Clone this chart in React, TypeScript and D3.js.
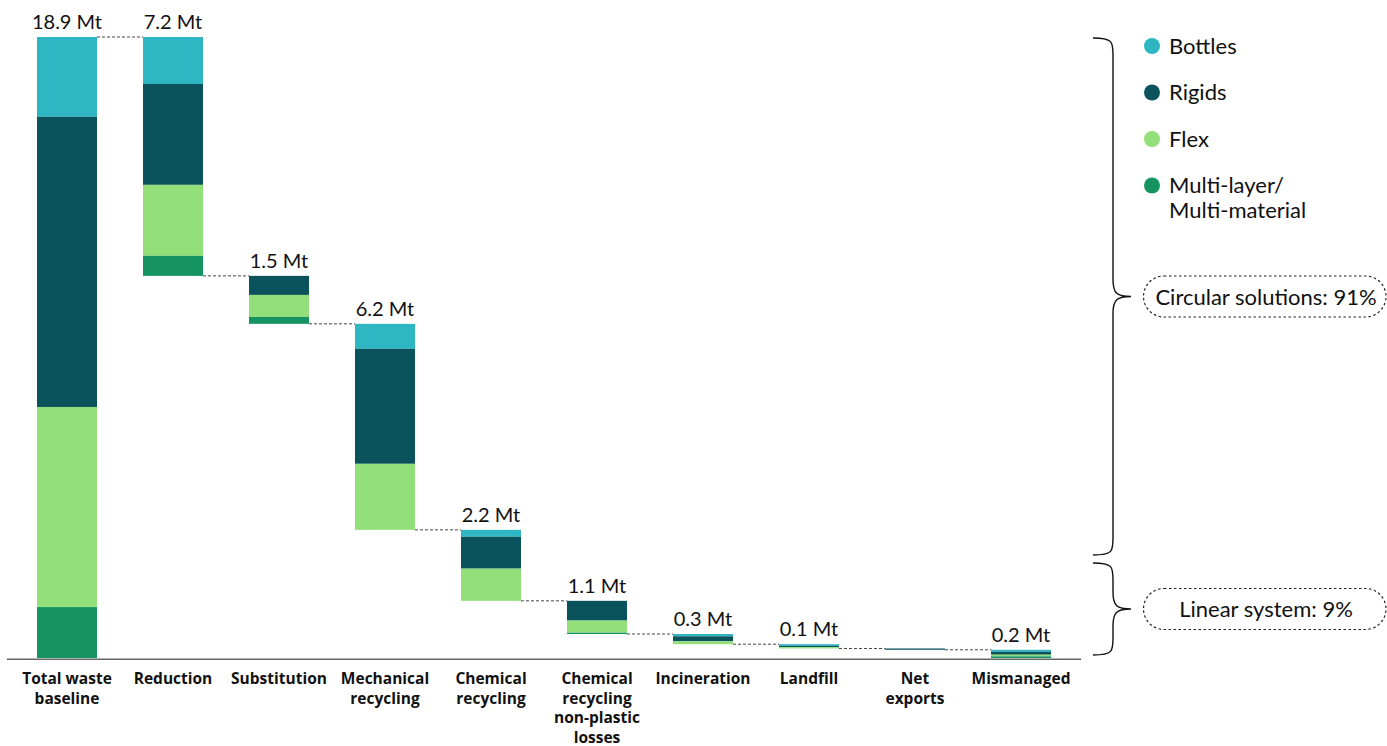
import React from "react";
import * as d3 from "d3";

const categories = [
  ["Total waste", "baseline"],
  ["Reduction"],
  ["Substitution"],
  ["Mechanical", "recycling"],
  ["Chemical", "recycling"],
  ["Chemical", "recycling", "non-plastic", "losses"],
  ["Incineration"],
  ["Landfill"],
  ["Net", "exports"],
  ["Mismanaged"],
];
const valueLabels = ["18.9 Mt", "7.2 Mt", "1.5 Mt", "6.2 Mt", "2.2 Mt", "1.1 Mt", "0.3 Mt", "0.1 Mt", "", "0.2 Mt"];
const seriesNames = ["Bottles", "Rigids", "Flex", "Multi-layer/ Multi-material"];
const bottles = [2.43, 1.43, 0, 0.76, 0.21, 0, 0.07, 0.05, 0, 0.06];
const rigids = [8.83, 3.07, 0.58, 3.5, 0.97, 0.6, 0.15, 0.04, 0.04, 0.09];
const flex = [6.09, 2.16, 0.67, 2.01, 0.98, 0.37, 0.09, 0.04, 0, 0.05];
const multi = [1.55, 0.61, 0.21, 0, 0, 0.04, 0, 0, 0, 0.05];
const colors = ["#2EB6C3", "#0B535C", "#93DF7A", "#159462"];
const groupLabels = ["Circular solutions: 91%", "Linear system: 9%"];

export default function App() {
  const W = 1387, H = 746;
  const total = d3.sum([bottles[0], rigids[0], flex[0], multi[0]]);
  const x = d3.scaleBand<number>().domain(d3.range(categories.length)).range([14, 1074]).paddingInner(0.434).paddingOuter(0.217);
  const y = d3.scaleLinear().domain([0, total]).range([658, 37]);
  const bw = x.bandwidth();
  const series = [bottles, rigids, flex, multi];

  const bars: { i: number; top: number; bottom: number; segs: { s: number; y0: number; y1: number }[] }[] = [];
  let level = total;
  categories.forEach((_, i) => {
    const vals = series.map((s) => s[i]);
    const sum = d3.sum(vals);
    const topVal = i === 0 ? sum : level;
    let cur = topVal;
    const segs = vals.map((v, s) => {
      const seg = { s, y0: cur, y1: Math.max(cur - v, 0) };
      cur -= v;
      return seg;
    });
    bars.push({ i, top: topVal, bottom: cur, segs });
    level = i === 0 ? total : Math.max(cur, 0);
  });

  const font = "Lato, 'Open Sans', sans-serif";

  const brace = (top: number, bot: number) => {
    const x0 = 1093, x1 = 1113, xt = 1131, r = 17;
    const mid = (top + bot) / 2;
    return `M${x0},${top} C${x1},${top} ${x1},${top + 4} ${x1},${top + r} L${x1},${mid - r} C${x1},${mid - 3} ${x1 + 4},${mid} ${xt},${mid} M${xt},${mid} C${x1 + 4},${mid} ${x1},${mid + 3} ${x1},${mid + r} L${x1},${bot - r} C${x1},${bot - 4} ${x1},${bot} ${x0},${bot}`;
  };

  const braceSpans = [
    [38, 555],
    [563, 655],
  ];

  return (
    <svg width={W} height={H} style={{ position: "absolute", left: 0, top: 0, background: "#fff" }} fontFamily={font}>
      {bars.slice(0, -1).map((b, k) => {
        const next = bars[k + 1];
        const yy = y(next.top);
        return (
          <line key={"c" + k} x1={(x(b.i) as number) + bw} x2={x(next.i) as number} y1={yy} y2={yy} stroke="#444" strokeWidth={1} strokeDasharray="3,2" />
        );
      })}
      {bars.map((b) =>
        b.segs.filter((sg) => sg.y0 - sg.y1 > 0).map((sg) => (
          <rect key={b.i + "-" + sg.s} x={x(b.i)} y={y(sg.y0)} width={bw} height={y(sg.y1) - y(sg.y0)} fill={colors[sg.s]} />
        ))
      )}
      {bars.map((b) => (
        <text key={"v" + b.i} x={(x(b.i) as number) + bw / 2} y={y(b.top) - 8} textAnchor="middle" fontSize={20} fill="#111">
          {valueLabels[b.i]}
        </text>
      ))}
      <line x1={7} x2={1081} y1={659.3} y2={659.3} stroke="#666" strokeWidth={1.6} />
      {categories.map((lines, i) => (
        <text key={"cat" + i} x={(x(i) as number) + bw / 2} textAnchor="middle" fontSize={15.5} fontWeight={700} fill="#111" fontFamily="'Open Sans', sans-serif">
          {lines.map((l, j) => (
            <tspan key={j} x={(x(i) as number) + bw / 2} y={684 + j * 19.5}>
              {l}
            </tspan>
          ))}
        </text>
      ))}
      {seriesNames.map((n, k) => {
        const cy = 46 + k * 46.5;
        const parts = n.split(" ");
        return (
          <g key={"lg" + k}>
            <circle cx={1152} cy={cy} r={8} fill={colors[k]} />
            <text x={1169} y={cy + 7.5} fontSize={22} fill="#111">
              {parts.map((p, j) => (
                <tspan key={j} x={1169} dy={j === 0 ? 0 : 25}>
                  {p}
                </tspan>
              ))}
            </text>
          </g>
        );
      })}
      {braceSpans.map(([t, b], k) => (
        <path key={"br" + k} d={brace(t, b)} fill="none" stroke="#111" strokeWidth={1.4} />
      ))}
      {groupLabels.map((label, k) => {
        const [t, b] = braceSpans[k];
        const mid = (t + b) / 2;
        return (
          <g key={"gl" + k}>
            <rect x={1143.5} y={mid - 20.5} width={242.5} height={41} rx={20.5} ry={20.5} fill="none" stroke="#222" strokeWidth={1.2} strokeDasharray="2.5,2.5" />
            <text x={1266} y={mid + 8} textAnchor="middle" fontSize={22} fill="#111">
              {label}
            </text>
          </g>
        );
      })}
    </svg>
  );
}
